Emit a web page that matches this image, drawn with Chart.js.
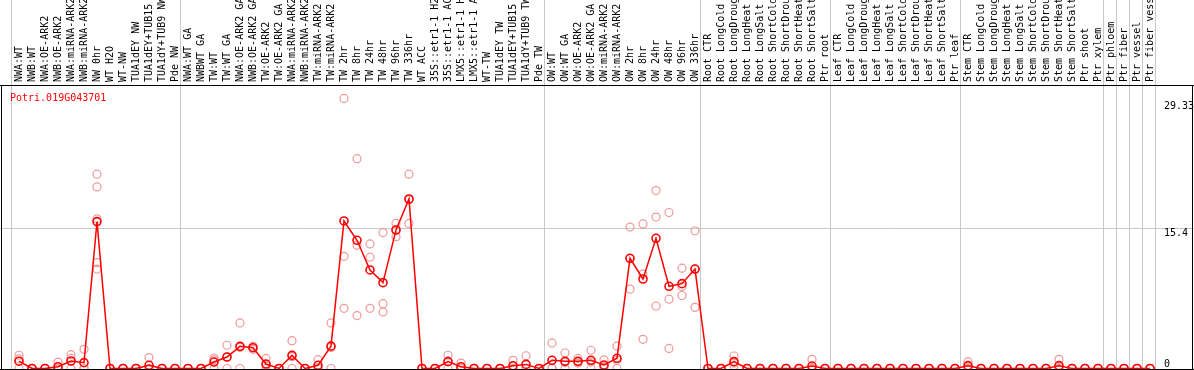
<!DOCTYPE html>
<html><head><meta charset="utf-8">
<script src="https://cdn.jsdelivr.net/npm/chart.js@4"></script>
<style>html,body{margin:0;padding:0;background:#fff;overflow:hidden}#wrap{position:relative;width:1194px;height:370px}</style>
</head><body><div id="wrap"><canvas id="c" width="1194" height="370"></canvas></div>
<script>
const geneName = 'Potri.019G043701';
const categories = ['NWA:WT','NWB:WT','NWA:OE-ARK2','NWB:OE-ARK2','NWA:miRNA-ARK2','NWB:miRNA-ARK2','NW 0hr','WT H2O','WT-NW','TUA1dEY NW','TUA1dEY+TUB15','TUA1dY+TUB9 NW','Pde NW',
'NWA:WT GA','NWBWT GA','TW:WT','TW:WT GA','NWA:OE-ARK2 GA','NWB:OE-ARK2 GA','TW:OE-ARK2','TW:OE-ARK2 GA','NWA:miRNA-ARK2','NWB:miRNA-ARK2','TW:miRNA-ARK2','TW:miRNA-ARK2','TW 2hr','TW 8hr','TW 24hr','TW 48hr','TW 96hr','TW 336hr','WT ACC','35S::etr1-1 H2','35S::etr1-1 AC','LMX5::etr1-1 H','LMX5::etr1-1 A','WT-TW','TUA1dEY TW','TUA1dEY+TUB15','TUA1dY+TUB9 TW','Pde TW',
'OW:WT','OW:WT GA','OW:OE-ARK2','OW:OE-ARK2 GA','OW:miRNA-ARK2','OW:miRNA-ARK2','OW 2hr','OW 8hr','OW 24hr','OW 48hr','OW 96hr','OW 336hr',
'Root CTR','Root LongCold','Root LongDroug','Root LongHeat','Root LongSalt','Root ShortCold','Root ShortDrou','Root ShortHeat','Root ShortSalt','Ptr root',
'Leaf CTR','Leaf LongCold','Leaf LongDroug','Leaf LongHeat','Leaf LongSalt','Leaf ShortCold','Leaf ShortDrou','Leaf ShortHeat','Leaf ShortSalt','Ptr leaf',
'Stem CTR','Stem LongCold','Stem LongDroug','Stem LongHeat','Stem LongSalt','Stem ShortCold','Stem ShortDrou','Stem ShortHeat','Stem ShortSalt','Ptr shoot','Ptr xylem',
'Ptr phloem','Ptr fiber','Ptr vessel','Ptr fiber vess'];

const meanValues = [0.8,0,0,0.2,0.82,0.64,16.1,0,0,0,0.35,0,0,
0,0,0.71,1.26,2.43,2.28,0.49,0,1.44,0,0.35,2.45,16.17,14.05,10.8,9.41,15.18,18.58,0,0,0.75,0.2,0,0,0,0.3,0.45,0,
0.9,0.79,0.79,0.9,0.38,1.12,12.08,9.81,14.27,9.01,9.3,10.9,
0,0,0.75,0,0,0,0,0,0.27,0,
0,0,0,0,0,0,0,0,0,0,
0.31,0,0,0,0,0,0,0.31,0,0,0,
0,0,0,0];

const replicateValues = [
[1.45,1.05,0],[0,0,0],[0,0,0],[0.7,0,0],[1.52,1.1,0],[2.1,0,0],[21.3,19.9,16.4,11.6,10.9],[0,0,0],[0,0,0],[0,0,0],[1.2,0,0],[0,0,0],[0,0,0],
[0,0,0],[0,0,0],[1.15,0.95,0],[2.55,1.25,0],[5.0,2.3,0],[2.45,2.3,2.1],[1.1,0.35,0],[0,0,0],[3.05,1.3,0],[0,0,0],[0.97,0.08,0],[5.0,2.3,0],
[29.6,12.3,6.6],[23.0,13.5,5.8],[13.65,12.2,6.6],[14.9,7.1,6.2],[15.9,15.2,14.45],[21.3,18.5,15.9],[0,0,0],[0,0,0],[1.45,0.8,0],[0.6,0,0],[0,0,0],[0,0,0],[0,0,0],[0.9,0,0],[1.4,0,0],[0,0,0],
[2.8,0,0],[1.7,0.67,0],[1.1,0.7,0.6],[2.0,0.7,0],[0.95,0.2,0],[2.45,0.9,0],[15.5,12.05,8.7],[15.85,10.35,3.2],[19.5,16.6,6.85],[17.1,7.6,2.2],[11.0,9.0,8.0],[15.1,10.9,6.7],
[0,0,0],[0,0,0],[1.37,0.6,0.3],[0,0,0],[0,0,0],[0,0,0],[0,0,0],[0,0,0],[1.0,0,0],[0,0,0],
[0,0,0],[0,0,0],[0,0,0],[0,0,0],[0,0,0],[0,0,0],[0,0,0],[0,0,0],[0,0,0],[0,0,0],
[0.75,0.15,0],[0,0,0],[0,0,0],[0,0,0],[0,0,0],[0,0,0],[0,0,0],[1.0,0,0],[0,0,0],[0,0,0],[0,0,0],
[0,0,0],[0,0,0],[0,0,0],[0,0,0]];

const yTickValues = [0, 15.4, 29.33];
const groupEnds = [-1, 12, 40, 52, 62, 72, 83, 84, 85, 86, 87];

const FONT = "'DejaVu Sans Mono','Liberation Mono',monospace";
const meanData = meanValues.map((v, i) => ({x: i, y: v}));
const repData = [];
replicateValues.forEach((arr, i) => arr.forEach(v => repData.push({x: i, y: v})));
const sepValues = groupEnds.map(i => i + 0.385);

const PX = 1194, XMIN = -19 / 13, XMAX = XMIN + PX / 13;
const YK = 140.5 / 15.4, YMIN = -1.5 / YK, YMAX = YMIN + 285 / YK;

const framePlugin = {
  id: 'frame',
  afterDatasetsDraw(chart) {
    const c = chart.ctx, y = chart.scales.y;
    c.save();
    c.strokeStyle = '#000'; c.lineWidth = 1;
    c.beginPath();
    const yb = Math.round(y.getPixelForValue(0)) + 0.5;
    c.moveTo(0, yb); c.lineTo(PX, yb);
    c.moveTo(1.5, chart.chartArea.top); c.lineTo(1.5, yb);
    c.moveTo(PX - 1.5, chart.chartArea.top); c.lineTo(PX - 1.5, yb);
    c.stroke();
    c.font = '10px ' + FONT;
    c.fillStyle = '#000'; c.textAlign = 'left';
    yTickValues.forEach(v => {
      const p = y.getPixelForValue(v);
      if (v === 0) { c.textBaseline = 'alphabetic'; c.fillText(String(v), 1164, p - 2); }
      else { c.textBaseline = 'top'; c.fillText(String(v), 1164, p + 0.5); }
    });
    c.fillStyle = '#ff0000';
    c.textBaseline = 'alphabetic';
    c.fillText(geneName, 10, chart.chartArea.top + 16);
    c.restore();
  }
};

new Chart(document.getElementById('c'), {
  type: 'line',
  data: { datasets: [
    {label: 'mean', data: meanData, borderColor: '#ff0000', borderWidth: 1.5, pointRadius: 4, pointHoverRadius: 4,
     pointBorderColor: '#ff0000', pointBackgroundColor: 'rgba(0,0,0,0)', pointBorderWidth: 1.6, order: 0, tension: 0},
    {label: 'replicates', type: 'scatter', data: repData, showLine: false, pointRadius: 4, pointHoverRadius: 4,
     borderColor: '#ee9999', backgroundColor: 'rgba(0,0,0,0)', borderWidth: 1.2, order: 1}
  ]},
  options: {
    responsive: false, animation: false, events: [],
    layout: {padding: 0, autoPadding: false},
    plugins: {legend: {display: false}, tooltip: {enabled: false}},
    scales: {
      x: {type: 'linear', position: 'top', min: XMIN, max: XMAX,
        afterBuildTicks: s => {
          s.ticks = categories.map((c, i) => ({value: i})).concat(sepValues.map(v => ({value: v})))
            .sort((a, b) => a.value - b.value);
        },
        ticks: {autoSkip: false, minRotation: 90, maxRotation: 90, padding: -82, labelOffset: 12,
          font: {family: FONT, size: 10}, color: '#000',
          callback: v => Number.isInteger(v) ? categories[v] : ''},
        grid: {drawOnChartArea: true, drawTicks: true, tickLength: 85, lineWidth: 1,
          color: c => (c.tick && !Number.isInteger(c.tick.value)) ? '#c8c8c8' : 'rgba(0,0,0,0)'},
        border: {display: true, color: '#000', width: 1},
        afterFit: s => { s.height = 85; s.paddingLeft = 0; s.paddingRight = 0; }
      },
      y: {type: 'linear', position: 'left', min: YMIN, max: YMAX, display: true,
        afterBuildTicks: s => { s.ticks = [{value: 15.4}]; },
        ticks: {display: false},
        grid: {drawTicks: false, color: '#c8c8c8', lineWidth: 1},
        border: {display: false},
        afterFit: s => { s.width = 0; }
      }
    }
  },
  plugins: [framePlugin]
});
</script></body></html>
